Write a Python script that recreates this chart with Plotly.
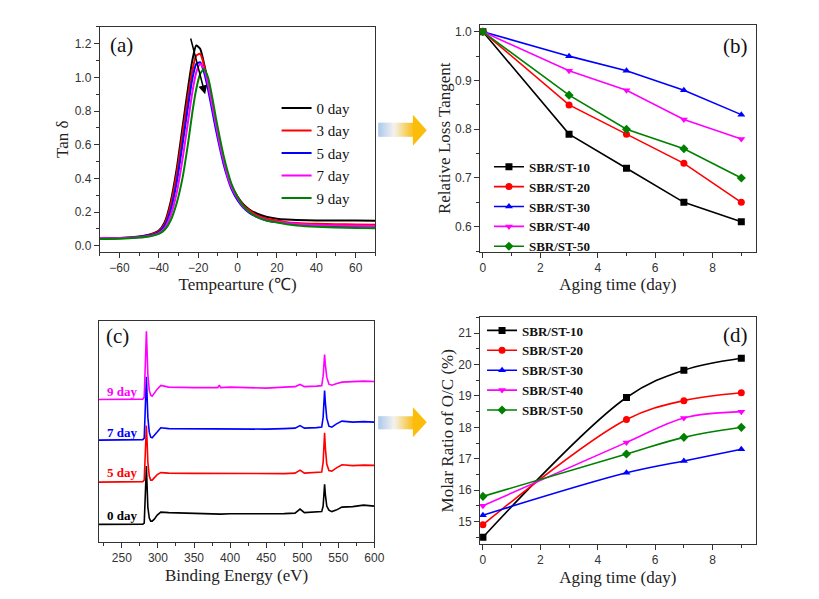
import plotly.graph_objects as go

W, H = 819, 599

# ---------------- Panel (a): Tan delta vs temperature ----------------
temp_c = [-70, -60, -50, -45, -40, -37, -34, -31, -28, -25, -23, -21, -19, -17, -15,
          -13, -11, -9, -7, -5, -3, 0, 3, 6, 10, 15, 20, 25, 30, 40, 50, 60, 70]
tan_0day = [0.045, 0.045, 0.055, 0.065, 0.09, 0.14, 0.26, 0.45, 0.70, 0.95, 1.10, 1.19, 1.17, 1.08, 0.97,
            0.84, 0.72, 0.61, 0.51, 0.42, 0.355, 0.29, 0.245, 0.215, 0.19, 0.17, 0.16, 0.155, 0.152, 0.15, 0.15, 0.15, 0.148]
tan_3day = [0.043, 0.044, 0.053, 0.062, 0.085, 0.13, 0.24, 0.42, 0.66, 0.90, 1.04, 1.13, 1.14, 1.07, 0.96,
            0.84, 0.72, 0.61, 0.51, 0.42, 0.355, 0.29, 0.24, 0.21, 0.18, 0.16, 0.15, 0.14, 0.135, 0.13, 0.128, 0.126, 0.125]
tan_5day = [0.045, 0.045, 0.052, 0.06, 0.08, 0.12, 0.21, 0.37, 0.60, 0.84, 0.99, 1.08, 1.09, 1.03, 0.93,
            0.81, 0.69, 0.58, 0.48, 0.40, 0.335, 0.27, 0.225, 0.195, 0.17, 0.15, 0.14, 0.133, 0.128, 0.12, 0.117, 0.115, 0.113]
tan_7day = [0.045, 0.045, 0.05, 0.057, 0.075, 0.105, 0.18, 0.31, 0.51, 0.75, 0.91, 1.03, 1.08, 1.05, 0.96,
            0.84, 0.72, 0.60, 0.50, 0.41, 0.345, 0.28, 0.23, 0.20, 0.172, 0.152, 0.142, 0.135, 0.13, 0.122, 0.12, 0.118, 0.117]
tan_9day = [0.04, 0.041, 0.048, 0.055, 0.07, 0.095, 0.15, 0.25, 0.40, 0.62, 0.79, 0.93, 1.02, 1.05, 1.00,
            0.89, 0.76, 0.64, 0.53, 0.44, 0.365, 0.29, 0.235, 0.20, 0.17, 0.148, 0.138, 0.128, 0.12, 0.112, 0.108, 0.105, 0.103]
day_labels_a = ["0 day", "3 day", "5 day", "7 day", "9 day"]

# ---------------- Panel (b): relative loss tangent ----------------
days_b = [0, 3, 5, 7, 9]
rlt_st10 = [1.0, 0.79, 0.72, 0.65, 0.61]
rlt_st20 = [1.0, 0.85, 0.79, 0.73, 0.65]
rlt_st30 = [1.0, 0.95, 0.92, 0.88, 0.83]
rlt_st40 = [1.0, 0.92, 0.88, 0.82, 0.78]
rlt_st50 = [1.0, 0.87, 0.80, 0.76, 0.70]
sample_names = ["SBR/ST-10", "SBR/ST-20", "SBR/ST-30", "SBR/ST-40", "SBR/ST-50"]

# ---------------- Panel (c): XPS survey spectra ----------------
binding_ev = [218, 270, 279, 281, 282, 283, 284, 285, 286, 288, 290, 292, 295, 299, 304, 315, 350,
              383, 385, 387, 400, 450, 475, 490, 497, 503, 520, 527, 529, 530, 531, 532, 534, 537,
              541, 547, 555, 570, 585, 600]
xps_0day = [17.7, 17.7, 18, 19, 35, 62, 76, 55, 35, 24, 21, 21, 23, 27, 30, 29.5, 28.5,
            28, 28, 28, 28.3, 28, 28.5, 29, 33, 29.5, 30, 30.5, 36, 48, 57.7, 48, 36, 32,
            30.5, 32, 35, 35.5, 37, 36]
xps_5day = [60, 60, 60.5, 62, 85, 108, 116.7, 100, 80, 66, 62, 62, 64, 67.5, 69.5, 69, 68.7,
            68.5, 68.5, 68.5, 69, 68.3, 68.5, 69, 72, 69, 69.5, 70, 80, 98, 109.4, 95, 78, 71.5,
            71, 74, 77.4, 76.5, 77, 76.7]
xps_7day = [102, 102, 102.5, 104, 130, 155, 165.4, 145, 125, 110, 105, 104.4, 107, 111, 114.4, 113.5, 113.4,
            113, 113, 113, 113.5, 113, 113.5, 114, 116.5, 114, 114.5, 115, 125, 142, 151.7, 140, 124, 116,
            115, 118, 121, 120, 120.5, 120]
xps_9day = [142.7, 142.7, 143, 145, 175, 200, 211, 190, 168, 152, 147, 146, 149, 153, 156.7, 155, 154.5,
            154.5, 157, 154.5, 155, 154, 155, 155.5, 157.7, 155.5, 156, 156.5, 166, 180, 187.7, 178, 165, 158,
            157, 158.5, 160, 160.5, 161, 160.7]
xps_labels = ["0 day", "5 day", "7 day", "9 day"]

# ---------------- Panel (d): molar ratio O/C ----------------
days_d = [0, 5, 7, 9]
oc_st10 = [14.5, 18.95, 19.82, 20.2]
oc_st20 = [14.9, 18.25, 18.85, 19.1]
oc_st30 = [15.2, 16.55, 16.93, 17.3]
oc_st40 = [15.5, 17.52, 18.3, 18.5]
oc_st50 = [15.8, 17.15, 17.68, 18.0]

colors = ["#000000", "#ff0000", "#0000ff", "#ff00ff", "#008000"]
xps_colors = ["#000000", "#ff0000", "#0000ff", "#ff00ff"]
symbols = ["square", "circle", "triangle-up", "triangle-down", "diamond"]
SERIF = "Liberation Serif, serif"
SANS = "Liberation Sans, sans-serif"


def px2x(p):
    return p / W


def px2y(p):
    return 1 - p / H


fig = go.Figure()

# (a)
for name, ys, c in zip(day_labels_a, [tan_0day, tan_3day, tan_5day, tan_7day, tan_9day], colors):
    fig.add_trace(go.Scatter(x=temp_c, y=ys, name=name, mode="lines",
                             line=dict(color=c, width=2, shape="spline", smoothing=0.6),
                             xaxis="x", yaxis="y", legend="legend"))
# (b)
for name, ys, c, s in zip(sample_names, [rlt_st10, rlt_st20, rlt_st30, rlt_st40, rlt_st50], colors, symbols):
    fig.add_trace(go.Scatter(x=days_b, y=ys, name=name, mode="lines+markers",
                             line=dict(color=c, width=1.6), marker=dict(symbol=s, size=7, color=c),
                             xaxis="x2", yaxis="y2", legend="legend2"))
# (c)
for name, ys, c in zip(xps_labels, [xps_0day, xps_5day, xps_7day, xps_9day], xps_colors):
    fig.add_trace(go.Scatter(x=binding_ev, y=ys, name=name, mode="lines",
                             line=dict(color=c, width=1.6), showlegend=False,
                             xaxis="x3", yaxis="y3"))
# (d)
for name, ys, c, s in zip(sample_names, [oc_st10, oc_st20, oc_st30, oc_st40, oc_st50], colors, symbols):
    fig.add_trace(go.Scatter(x=days_d, y=ys, name=name, mode="lines+markers",
                             line=dict(color=c, width=1.6, shape="spline", smoothing=1.0),
                             marker=dict(symbol=s, size=7, color=c),
                             xaxis="x4", yaxis="y4", legend="legend3"))


def axis(domain, rng, dtick, minor_dtick, anchor, title="", fmt=None, labels=True, ticks=True, standoff=4):
    d = dict(domain=domain, range=rng, anchor=anchor, showline=True, linecolor="#333", linewidth=1,
             mirror=True, showgrid=False, zeroline=False,
             ticks="outside" if ticks else "", ticklen=5, tickwidth=1, tickcolor="#333",
             showticklabels=labels, dtick=dtick,
             tickfont=dict(family=SANS, size=12, color="#333"),
             title=dict(text=title, font=dict(family=SERIF, size=17, color="#222"), standoff=standoff))
    if fmt:
        d["tickformat"] = fmt
    if minor_dtick and ticks:
        d["minor"] = dict(ticks="outside", ticklen=3, dtick=minor_dtick, tickcolor="#333", showgrid=False)
    return d


xa = [px2x(101), px2x(380)]
xb = [px2x(486), px2x(765)]
xc = [px2x(100), px2x(379)]
ya = [px2y(252), px2y(27)]
yb = [px2y(252), px2y(25)]
yc = [px2y(543), px2y(322)]
yd = [px2y(545), px2y(318)]

layout = dict(
    width=W, height=H, margin=dict(l=0, r=0, t=0, b=0),
    paper_bgcolor="white", plot_bgcolor="white",
    xaxis=axis(xa, [-70, 70], 20, 10, "y", "Tempearture (℃)"),
    yaxis=axis(ya, [-0.035, 1.3], 0.2, 0.1, "x", "Tan δ", fmt=".1f", standoff=1),
    xaxis2=axis(xb, [-0.1, 9.5], 2, 1, "y2", "Aging time (day)"),
    yaxis2=axis(yb, [0.549, 1.014], 0.1, 0.05, "x2", "Relative Loss Tangent", fmt=".1f", standoff=0),
    xaxis3=axis(xc, [218, 600], 50, 25, "y3", "Binding Energy (eV)"),
    yaxis3=axis(yc, [0, 220.7], None, None, "x3", "", labels=False, ticks=False),
    xaxis4=axis(xb, [-0.1, 9.5], 2, 1, "y4", "Aging time (day)"),
    yaxis4=axis(yd, [14.28, 21.5], 1, 0.5, "x4", "Molar Ratio of O/C (%)", standoff=0),
    legend=dict(x=px2x(280), y=px2y(92), xanchor="left", yanchor="top", bgcolor="rgba(0,0,0,0)",
                font=dict(family=SERIF, size=15, color="#111"), tracegroupgap=0),
    legend2=dict(x=px2x(495), y=px2y(152), xanchor="left", yanchor="top", bgcolor="rgba(0,0,0,0)",
                 font=dict(family=SERIF, size=13, color="#111", weight="bold")),
    legend3=dict(x=px2x(488), y=px2y(316), xanchor="left", yanchor="top", bgcolor="rgba(0,0,0,0)",
                 font=dict(family=SERIF, size=13, color="#111", weight="bold")),
)
fig.update_layout(**layout)

# panel letters
annots = []
for txt, cx, cy in [("(a)", 123, 45), ("(b)", 745, 46), ("(c)", 119, 337), ("(d)", 745, 336)]:
    annots.append(dict(text=txt, x=px2x(cx), y=px2y(cy), xref="paper", yref="paper", showarrow=False,
                       xanchor="center", yanchor="middle", font=dict(family=SERIF, size=21, color="#111")))
# day labels in (c)
for txt, c, cy in [("9 day", "#ff00ff", 392), ("7 day", "#0000ff", 433), ("5 day", "#ff0000", 473), ("0 day", "#000000", 516)]:
    annots.append(dict(text="<b>" + txt + "</b>", x=px2x(106), y=px2y(cy), xref="paper", yref="paper",
                       showarrow=False, xanchor="left", yanchor="middle",
                       font=dict(family=SERIF, size=13, color=c)))
# arrow in (a)
annots.append(dict(x=-16.5, y=0.9, ax=-24, ay=1.24, xref="x", yref="y", axref="x", ayref="y",
                   text="", showarrow=True, arrowhead=2, arrowsize=1.2, arrowwidth=1.5, arrowcolor="#000"))
fig.update_layout(annotations=annots)

# gradient arrows between panels
shapes = []


def lerp(a, b, t):
    return tuple(int(round(a[i] + (b[i] - a[i]) * t)) for i in range(3))


c_left, c_mid, c_right = (160, 192, 235), (242, 240, 236), (250, 192, 30)
for (by0, by1, hy0, hy1, tip) in [(123, 137, 115, 146, 130.5), (417, 430, 408, 438, 423)]:
    x0, x1, N = 383, 418, 35
    for i in range(N):
        t = (i + 0.5) / N
        col = lerp(c_left, c_mid, t / 0.45) if t < 0.45 else lerp(c_mid, c_right, (t - 0.45) / 0.55)
        xa0 = x0 + (x1 - x0) * i / N
        xa1 = x0 + (x1 - x0) * (i + 1) / N + 0.3
        shapes.append(dict(type="rect", xref="paper", yref="paper", x0=px2x(xa0), x1=px2x(xa1),
                           y0=px2y(by1), y1=px2y(by0), line=dict(width=0), fillcolor="rgb(%d,%d,%d)" % col,
                           layer="above"))
    path = "M %f,%f L %f,%f L %f,%f Z" % (px2x(418), px2y(hy0), px2x(432), px2y(tip), px2x(418), px2y(hy1))
    shapes.append(dict(type="path", xref="paper", yref="paper", path=path, line=dict(width=0),
                       fillcolor="rgb(252,188,10)", layer="above"))
fig.update_layout(shapes=shapes)

fig.write_html("out.html")
